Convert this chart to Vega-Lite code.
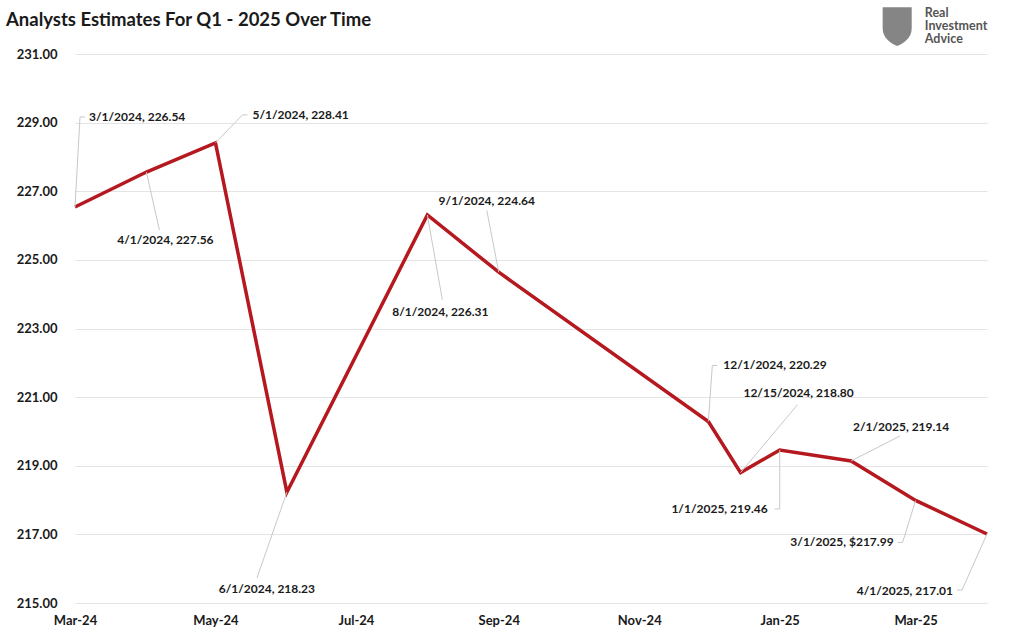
{
  "$schema": "https://vega.github.io/schema/vega-lite/v6.json",
  "width": 912,
  "height": 549,
  "autosize": "none",
  "padding": {"left": 75, "top": 54, "right": 37, "bottom": 37},
  "background": "white",
  "config": {"font": "Lato", "view": {"stroke": null}},
  "title": {"text": "Analysts Estimates For Q1 - 2025 Over Time", "anchor": "start", "frame": "group", "dx": -69, "offset": -22, "fontSize": 18.5, "fontWeight": "bold", "color": "#1a1a1a", "font": "Lato"},
  "data": {"values": [
    {"date": "2024-03-01", "value": 226.54, "label": "3/1/2024, 226.54"},
    {"date": "2024-04-01", "value": 227.56, "label": "4/1/2024, 227.56"},
    {"date": "2024-05-01", "value": 228.41, "label": "5/1/2024, 228.41"},
    {"date": "2024-06-01", "value": 218.23, "label": "6/1/2024, 218.23"},
    {"date": "2024-08-01", "value": 226.31, "label": "8/1/2024, 226.31"},
    {"date": "2024-09-01", "value": 224.64, "label": "9/1/2024, 224.64"},
    {"date": "2024-12-01", "value": 220.29, "label": "12/1/2024, 220.29"},
    {"date": "2024-12-15", "value": 218.80, "label": "12/15/2024, 218.80"},
    {"date": "2025-01-01", "value": 219.46, "label": "1/1/2025, 219.46"},
    {"date": "2025-02-01", "value": 219.14, "label": "2/1/2025, 219.14"},
    {"date": "2025-03-01", "value": 217.99, "label": "3/1/2025, $217.99"},
    {"date": "2025-04-01", "value": 217.01, "label": "4/1/2025, 217.01"}
  ]},
  "encoding": {
    "x": {"field": "date", "type": "temporal",
      "scale": {"type": "utc", "domain": [{"year": 2024, "month": 3, "date": 1, "utc": true}, {"year": 2025, "month": 4, "date": 1, "utc": true}]},
      "axis": {"title": null, "labelExpr": "utcFormat(datum.value, '%b-%y')", "tickCount": {"interval": "month", "step": 2}, "labelFontSize": 13, "labelFontWeight": "bold", "labelColor": "#1a1a1a", "labelPadding": 11, "labelFlush": false, "labelOverlap": false, "domain": false, "ticks": false, "grid": false, "labelFont": "Lato"}},
    "y": {"field": "value", "type": "quantitative",
      "scale": {"domain": [215, 231], "nice": false, "zero": false},
      "axis": {"title": null, "values": [215, 217, 219, 221, 223, 225, 227, 229, 231], "format": ".2f", "labelFontSize": 13, "labelFontWeight": "bold", "labelColor": "#1a1a1a", "labelPadding": 18, "domain": false, "ticks": false, "grid": true, "gridColor": "#e4e4e4", "gridWidth": 1, "labelFont": "Lato"}}
  },
  "layer": [
    {"mark": {"type": "line", "color": "#B5191F", "strokeWidth": 3.5}},
    {"transform": [{"filter": "datum.label == '3/1/2024, 226.54'"}], "layer": [
      {"mark": {"type": "rule", "color": "#c8c8c8", "strokeWidth": 1, "x2Offset": 5, "y2Offset": -90}, "encoding": {"x2": {"field": "date"}, "y2": {"field": "value"}}},
      {"mark": {"type": "rule", "color": "#c8c8c8", "strokeWidth": 1, "xOffset": 5, "x2Offset": 10, "yOffset": -90, "y2Offset": -90}, "encoding": {"x2": {"field": "date"}, "y2": {"field": "value"}}},
      {"mark": {"type": "text", "align": "left", "baseline": "middle", "dx": 14, "dy": -90, "fontSize": 12, "fontWeight": "bold", "color": "#1a1a1a"}, "encoding": {"text": {"field": "label"}}}
    ]},
    {"transform": [{"filter": "datum.label == '4/1/2024, 227.56'"}], "layer": [
      {"mark": {"type": "rule", "color": "#c8c8c8", "strokeWidth": 1, "x2Offset": 13, "y2Offset": 58}, "encoding": {"x2": {"field": "date"}, "y2": {"field": "value"}}},
      {"mark": {"type": "text", "align": "center", "baseline": "middle", "dx": 19, "dy": 68, "fontSize": 12, "fontWeight": "bold", "color": "#1a1a1a"}, "encoding": {"text": {"field": "label"}}}
    ]},
    {"transform": [{"filter": "datum.label == '5/1/2024, 228.41'"}], "layer": [
      {"mark": {"type": "rule", "color": "#c8c8c8", "strokeWidth": 1, "x2Offset": 27, "y2Offset": -28}, "encoding": {"x2": {"field": "date"}, "y2": {"field": "value"}}},
      {"mark": {"type": "rule", "color": "#c8c8c8", "strokeWidth": 1, "xOffset": 27, "x2Offset": 32, "yOffset": -28, "y2Offset": -28}, "encoding": {"x2": {"field": "date"}, "y2": {"field": "value"}}},
      {"mark": {"type": "text", "align": "left", "baseline": "middle", "dx": 37, "dy": -28, "fontSize": 12, "fontWeight": "bold", "color": "#1a1a1a"}, "encoding": {"text": {"field": "label"}}}
    ]},
    {"transform": [{"filter": "datum.label == '6/1/2024, 218.23'"}], "layer": [
      {"mark": {"type": "rule", "color": "#c8c8c8", "strokeWidth": 1, "x2Offset": -30, "y2Offset": 86}, "encoding": {"x2": {"field": "date"}, "y2": {"field": "value"}}},
      {"mark": {"type": "text", "align": "center", "baseline": "middle", "dx": -20, "dy": 97, "fontSize": 12, "fontWeight": "bold", "color": "#1a1a1a"}, "encoding": {"text": {"field": "label"}}}
    ]},
    {"transform": [{"filter": "datum.label == '8/1/2024, 226.31'"}], "layer": [
      {"mark": {"type": "rule", "color": "#c8c8c8", "strokeWidth": 1, "x2Offset": 15, "y2Offset": 85}, "encoding": {"x2": {"field": "date"}, "y2": {"field": "value"}}},
      {"mark": {"type": "text", "align": "center", "baseline": "middle", "dx": 13, "dy": 97, "fontSize": 12, "fontWeight": "bold", "color": "#1a1a1a"}, "encoding": {"text": {"field": "label"}}}
    ]},
    {"transform": [{"filter": "datum.label == '9/1/2024, 224.64'"}], "layer": [
      {"mark": {"type": "rule", "color": "#c8c8c8", "strokeWidth": 1, "x2Offset": -12, "y2Offset": -62}, "encoding": {"x2": {"field": "date"}, "y2": {"field": "value"}}},
      {"mark": {"type": "text", "align": "center", "baseline": "middle", "dx": -12, "dy": -71, "fontSize": 12, "fontWeight": "bold", "color": "#1a1a1a"}, "encoding": {"text": {"field": "label"}}}
    ]},
    {"transform": [{"filter": "datum.label == '12/1/2024, 220.29'"}], "layer": [
      {"mark": {"type": "rule", "color": "#c8c8c8", "strokeWidth": 1, "x2Offset": 4, "y2Offset": -56}, "encoding": {"x2": {"field": "date"}, "y2": {"field": "value"}}},
      {"mark": {"type": "rule", "color": "#c8c8c8", "strokeWidth": 1, "xOffset": 4, "x2Offset": 9, "yOffset": -56, "y2Offset": -56}, "encoding": {"x2": {"field": "date"}, "y2": {"field": "value"}}},
      {"mark": {"type": "text", "align": "left", "baseline": "middle", "dx": 15, "dy": -56, "fontSize": 12, "fontWeight": "bold", "color": "#1a1a1a"}, "encoding": {"text": {"field": "label"}}}
    ]},
    {"transform": [{"filter": "datum.label == '12/15/2024, 218.80'"}], "layer": [
      {"mark": {"type": "rule", "color": "#c8c8c8", "strokeWidth": 1, "x2Offset": 57, "y2Offset": -68}, "encoding": {"x2": {"field": "date"}, "y2": {"field": "value"}}},
      {"mark": {"type": "text", "align": "center", "baseline": "middle", "dx": 58, "dy": -80, "fontSize": 12, "fontWeight": "bold", "color": "#1a1a1a"}, "encoding": {"text": {"field": "label"}}}
    ]},
    {"transform": [{"filter": "datum.label == '1/1/2025, 219.46'"}], "layer": [
      {"mark": {"type": "rule", "color": "#c8c8c8", "strokeWidth": 1, "x2Offset": 0, "y2Offset": 59}, "encoding": {"x2": {"field": "date"}, "y2": {"field": "value"}}},
      {"mark": {"type": "rule", "color": "#c8c8c8", "strokeWidth": 1, "xOffset": 0, "x2Offset": -5, "yOffset": 59, "y2Offset": 59}, "encoding": {"x2": {"field": "date"}, "y2": {"field": "value"}}},
      {"mark": {"type": "text", "align": "right", "baseline": "middle", "dx": -12, "dy": 59, "fontSize": 12, "fontWeight": "bold", "color": "#1a1a1a"}, "encoding": {"text": {"field": "label"}}}
    ]},
    {"transform": [{"filter": "datum.label == '2/1/2025, 219.14'"}], "layer": [
      {"mark": {"type": "rule", "color": "#c8c8c8", "strokeWidth": 1, "x2Offset": 49, "y2Offset": -25}, "encoding": {"x2": {"field": "date"}, "y2": {"field": "value"}}},
      {"mark": {"type": "text", "align": "center", "baseline": "middle", "dx": 50, "dy": -34, "fontSize": 12, "fontWeight": "bold", "color": "#1a1a1a"}, "encoding": {"text": {"field": "label"}}}
    ]},
    {"transform": [{"filter": "datum.label == '3/1/2025, $217.99'"}], "layer": [
      {"mark": {"type": "rule", "color": "#c8c8c8", "strokeWidth": 1, "x2Offset": -13, "y2Offset": 42}, "encoding": {"x2": {"field": "date"}, "y2": {"field": "value"}}},
      {"mark": {"type": "rule", "color": "#c8c8c8", "strokeWidth": 1, "xOffset": -13, "x2Offset": -18, "yOffset": 42, "y2Offset": 42}, "encoding": {"x2": {"field": "date"}, "y2": {"field": "value"}}},
      {"mark": {"type": "text", "align": "right", "baseline": "middle", "dx": -22, "dy": 42, "fontSize": 12, "fontWeight": "bold", "color": "#1a1a1a"}, "encoding": {"text": {"field": "label"}}}
    ]},
    {"transform": [{"filter": "datum.label == '4/1/2025, 217.01'"}], "layer": [
      {"mark": {"type": "rule", "color": "#c8c8c8", "strokeWidth": 1, "x2Offset": -25, "y2Offset": 56}, "encoding": {"x2": {"field": "date"}, "y2": {"field": "value"}}},
      {"mark": {"type": "rule", "color": "#c8c8c8", "strokeWidth": 1, "xOffset": -25, "x2Offset": -30, "yOffset": 56, "y2Offset": 56}, "encoding": {"x2": {"field": "date"}, "y2": {"field": "value"}}},
      {"mark": {"type": "text", "align": "right", "baseline": "middle", "dx": -34, "dy": 57, "fontSize": 12, "fontWeight": "bold", "color": "#1a1a1a"}, "encoding": {"text": {"field": "label"}}}
    ]},
    {"transform": [{"filter": "datum.label == '4/1/2025, 217.01'"}], "layer": [
      {"mark": {"type": "point", "shape": "M-0.75,-1 L0.75,-1 L0.75,0.1 C0.75,0.6 0.3,0.9 0,1 C-0.3,0.9 -0.75,0.6 -0.75,0.1 Z", "filled": true, "color": "#858585", "opacity": 1, "size": 1500},
       "encoding": {
         "x": {"datum": {"year": 2025, "month": 2, "date": 21, "utc": true}, "type": "temporal"},
         "y": {"datum": 231.8, "type": "quantitative"}
       }},
      {"mark": {"type": "text", "align": "left", "baseline": "middle", "fontSize": 12.5, "fontWeight": "bold", "color": "#555555"},
       "encoding": {
         "x": {"datum": {"year": 2025, "month": 3, "date": 5, "utc": true}, "type": "temporal"},
         "y": {"datum": 232.19, "type": "quantitative"},
         "text": {"value": "Real"}
       }},
      {"mark": {"type": "text", "align": "left", "baseline": "middle", "fontSize": 12.5, "fontWeight": "bold", "color": "#555555"},
       "encoding": {
         "x": {"datum": {"year": 2025, "month": 3, "date": 5, "utc": true}, "type": "temporal"},
         "y": {"datum": 231.81, "type": "quantitative"},
         "text": {"value": "Investment"}
       }},
      {"mark": {"type": "text", "align": "left", "baseline": "middle", "fontSize": 12.5, "fontWeight": "bold", "color": "#555555"},
       "encoding": {
         "x": {"datum": {"year": 2025, "month": 3, "date": 5, "utc": true}, "type": "temporal"},
         "y": {"datum": 231.43, "type": "quantitative"},
         "text": {"value": "Advice"}
       }}
    ]}
  ]
}
